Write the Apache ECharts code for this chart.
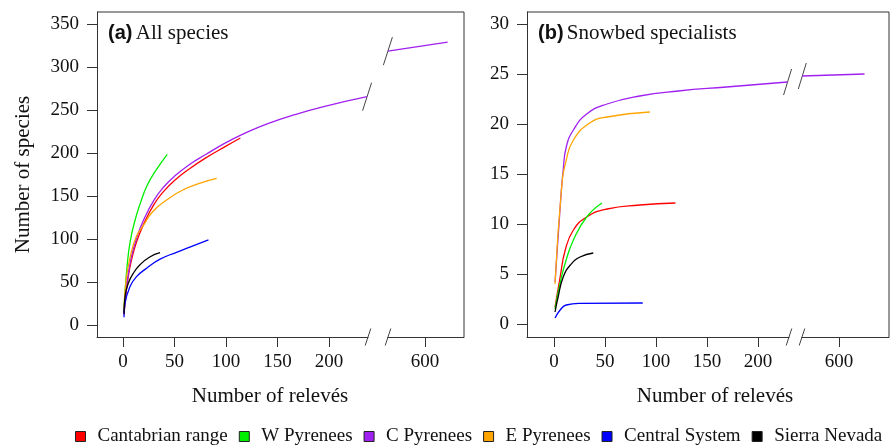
<!DOCTYPE html>
<html>
<head>
<meta charset="utf-8">
<script src="https://cdn.jsdelivr.net/npm/echarts@6/dist/echarts.min.js"></script>
<style>
html, body { margin: 0; padding: 0; background: #fff; }
#chart { width: 891px; height: 447px; }
</style>
</head>
<body>
<div id="chart"></div>
<script>
// region names and colours (legend order)
const regions = ['Cantabrian range', 'W Pyrenees', 'C Pyrenees', 'E Pyrenees', 'Central System', 'Sierra Nevada'];
const colors = ['#ff0000', '#00ee00', '#a020f0', '#ffa500', '#0000ff', '#000000'];

// (a) All species  -> [relevés, species]
const allCantabrian = [[1,12],[3,37],[5,55],[8,74],[13,96],[20,117],[30,140],[40,156],[50,168],[65,182],[80,194],[100,208],[114,217.5]];
const allWPyrenees = [[1,16],[2,38],[4,68],[7,97],[12,123],[17,142],[23,161],[31,178],[43,198.5]];
const allCPyrenees = [[1,14],[3,40],[5,58],[8,78],[13,100],[20,122],[30,145],[40,161],[50,173],[65,187],[80,198],[100,212],[120,224],[140,234],[165,244],[195,254],[237,265.5]];
const allCPyreneesTail = [[564,318.5],[622,329]];
const allEPyrenees = [[1,16],[3,52],[7,79],[13,103],[20,116],[29,132],[42,145],[58,157],[75,165],[91,170.5]];
const allCentral = [[1,9],[2,25],[7,45],[13,56],[23,66],[36,76.5],[52,84.5],[68,92],[83,99]];
const allSierra = [[1,13],[2,33],[5,48],[10,60],[16.5,70],[26,79],[36,84]];

// (b) Snowbed specialists
const snowCantabrian = [[1,1.7],[6,4.7],[11,7.4],[19,9.4],[32,10.7],[52,11.5],[84,11.9],[119,12.1]];
const snowWPyrenees = [[1,1.5],[6,4.1],[11,6.1],[19,8.4],[32,10.7],[47,12.1]];
const snowCPyrenees = [[1,4.2],[6.5,12.4],[9,15.4],[12,17.7],[19,19.4],[32,21],[52,22],[84,22.8],[122,23.3],[169,23.7],[229,24.2]];
const snowCPyreneesTail = [[564,24.8],[625,25.0]];
const snowEPyrenees = [[1,4],[7.5,13.7],[12,16.4],[19,18.4],[35,20.1],[52,20.7],[94,21.2]];
const snowCentral = [[1,0.6],[6,1.4],[12,1.9],[25,2.07],[87,2.1]];
const snowSierra = [[1,1.2],[4,2.7],[9,4.7],[16,5.9],[25.5,6.7],[38.5,7.1]];

// tick labels
const xTicks = [0, 50, 100, 150, 200];
const xTicksTail = [600];
const yTicksAll = [0, 50, 100, 150, 200, 250, 300, 350];
const yTicksSnow = [0, 5, 10, 15, 20, 25, 30];

const serif = '"Liberation Serif", "Times New Roman", serif';
const sans = '"Liberation Sans", Arial, sans-serif';
const axisCol = '#333';

// panel frames (pixels): main part | after the break
const T = 12, B = 337;
const gridsPx = [
  [97, 368],   // (a) 0-240
  [388, 464],  // (a) 600 part
  [527, 789],  // (b) 0-230
  [802, 889]   // (b) 600 part
];

function xAx(gi, min, max, ticks) {
  return {
    type: 'value', gridIndex: gi, min: min, max: max,
    axisLine: { show: true, onZero: false, lineStyle: { color: axisCol, width: 1 } },
    axisTick: { show: true, length: 10, customValues: ticks, lineStyle: { color: axisCol } },
    axisLabel: { customValues: ticks, margin: 16, fontFamily: serif, fontSize: 19, color: '#111' },
    splitLine: { show: false }
  };
}
function yAx(gi, min, max, ticks, show, name) {
  return {
    type: 'value', gridIndex: gi, min: min, max: max, show: show,
    name: name || '', nameLocation: 'middle', nameGap: 63,
    nameTextStyle: { fontFamily: serif, fontSize: 21, color: '#111' },
    axisLine: { show: true, onZero: false, lineStyle: { color: axisCol, width: 1 } },
    axisTick: { show: true, length: 10, customValues: ticks, lineStyle: { color: axisCol } },
    axisLabel: { customValues: ticks, margin: 18, fontFamily: serif, fontSize: 19, color: '#111' },
    splitLine: { show: false }
  };
}
function line(idx, data, ax) {
  return {
    type: 'line', name: regions[idx], data: data,
    xAxisIndex: ax, yAxisIndex: ax,
    symbol: 'none', smooth: 0.5,
    lineStyle: { color: colors[idx], width: 1.3 },
    itemStyle: { color: colors[idx] },
    silent: true
  };
}

const chart = echarts.init(document.getElementById('chart'));

chart.setOption({
  animation: false,
  grid: gridsPx.map(g => ({ left: g[0], top: T, width: g[1] - g[0], height: B - T })),
  xAxis: [
    xAx(0, -25.2, 237.9, xTicks),
    xAx(1, 564.1, 637.9, xTicksTail),
    xAx(2, -26.5, 230.4, xTicks),
    xAx(3, 563.7, 649, xTicksTail)
  ],
  yAxis: [
    yAx(0, -14, 364, yTicksAll, true, 'Number of species'),
    yAx(1, -14, 364, yTicksAll, false),
    yAx(2, -1.3, 31.2, yTicksSnow, true),
    yAx(3, -1.3, 31.2, yTicksSnow, false)
  ],
  legend: {
    data: regions, left: 70, top: 422,
    icon: 'rect', itemWidth: 10, itemHeight: 10, itemGap: 11,
    itemStyle: { borderColor: '#222', borderWidth: 1 },
    textStyle: { fontFamily: serif, fontSize: 19, color: '#111', padding: [0, 0, 0, 7] },
    selectedMode: false
  },
  series: [
    line(0, allCantabrian, 0),
    line(1, allWPyrenees, 0),
    line(2, allCPyrenees, 0),
    line(2, allCPyreneesTail, 1),
    line(3, allEPyrenees, 0),
    line(4, allCentral, 0),
    line(5, allSierra, 0),
    line(0, snowCantabrian, 2),
    line(1, snowWPyrenees, 2),
    line(2, snowCPyrenees, 2),
    line(2, snowCPyreneesTail, 3),
    line(3, snowEPyrenees, 2),
    line(4, snowCentral, 2),
    line(5, snowSierra, 2)
  ]
});

// decorations: frames, break marks and titles
const px = (gi, pt) => chart.convertToPixel({ gridIndex: gi }, pt);
const g = [];
function slash(p, dx, dy) {
  g.push({ type: 'line', silent: true,
    shape: { x1: p[0] - dx, y1: p[1] + dy, x2: p[0] + dx, y2: p[1] - dy },
    style: { stroke: '#444', lineWidth: 1 } });
}
[[0, 1, -25.2, 637.9, -14, 364], [2, 3, -26.5, 649, -1.3, 31.2]].forEach(f => {
  const tl = px(f[0], [f[2], f[5]]);
  const br = px(f[1], [f[3], f[4]]);
  g.push({ type: 'polyline', silent: true,
    shape: { points: [[tl[0], tl[1]], [br[0], tl[1]], [br[0], br[1]]] },
    style: { stroke: axisCol, lineWidth: 1, fill: null } });
});
// axis breaks
slash(px(0, [237.9, -14]), 2.8, 8.5);
slash(px(1, [564.1, -14]), 2.8, 8.5);
slash(px(2, [230.4, -1.3]), 2.8, 8.5);
slash(px(3, [563.7, -1.3]), 2.8, 8.5);
// curve breaks
slash(px(0, allCPyrenees[allCPyrenees.length - 1]), 4.5, 14);
slash(px(1, allCPyreneesTail[0]), 4.5, 14);
slash(px(2, snowCPyrenees[snowCPyrenees.length - 1]), 4, 13);
slash(px(3, snowCPyreneesTail[0]), 4, 13);

function title(x, tag, text) {
  g.push({ type: 'text', x: x, y: 33, silent: true,
    style: { text: '{b|' + tag + '} {n|' + text + '}', verticalAlign: 'middle', fill: '#111',
      rich: { b: { fontFamily: sans, fontWeight: 'bold', fontSize: 20, fill: '#111' },
              n: { fontFamily: serif, fontSize: 21, fill: '#111' } } } });
}
title(108, '(a)', 'All species');
title(538, '(b)', 'Snowbed specialists');
[[270, 'Number of relevés'], [715, 'Number of relevés']].forEach(t => {
  g.push({ type: 'text', x: t[0], y: 396, silent: true,
    style: { text: t[1], font: '21px ' + serif, fill: '#111', align: 'center', verticalAlign: 'middle' } });
});
chart.setOption({ graphic: g });
</script>
</body>
</html>
